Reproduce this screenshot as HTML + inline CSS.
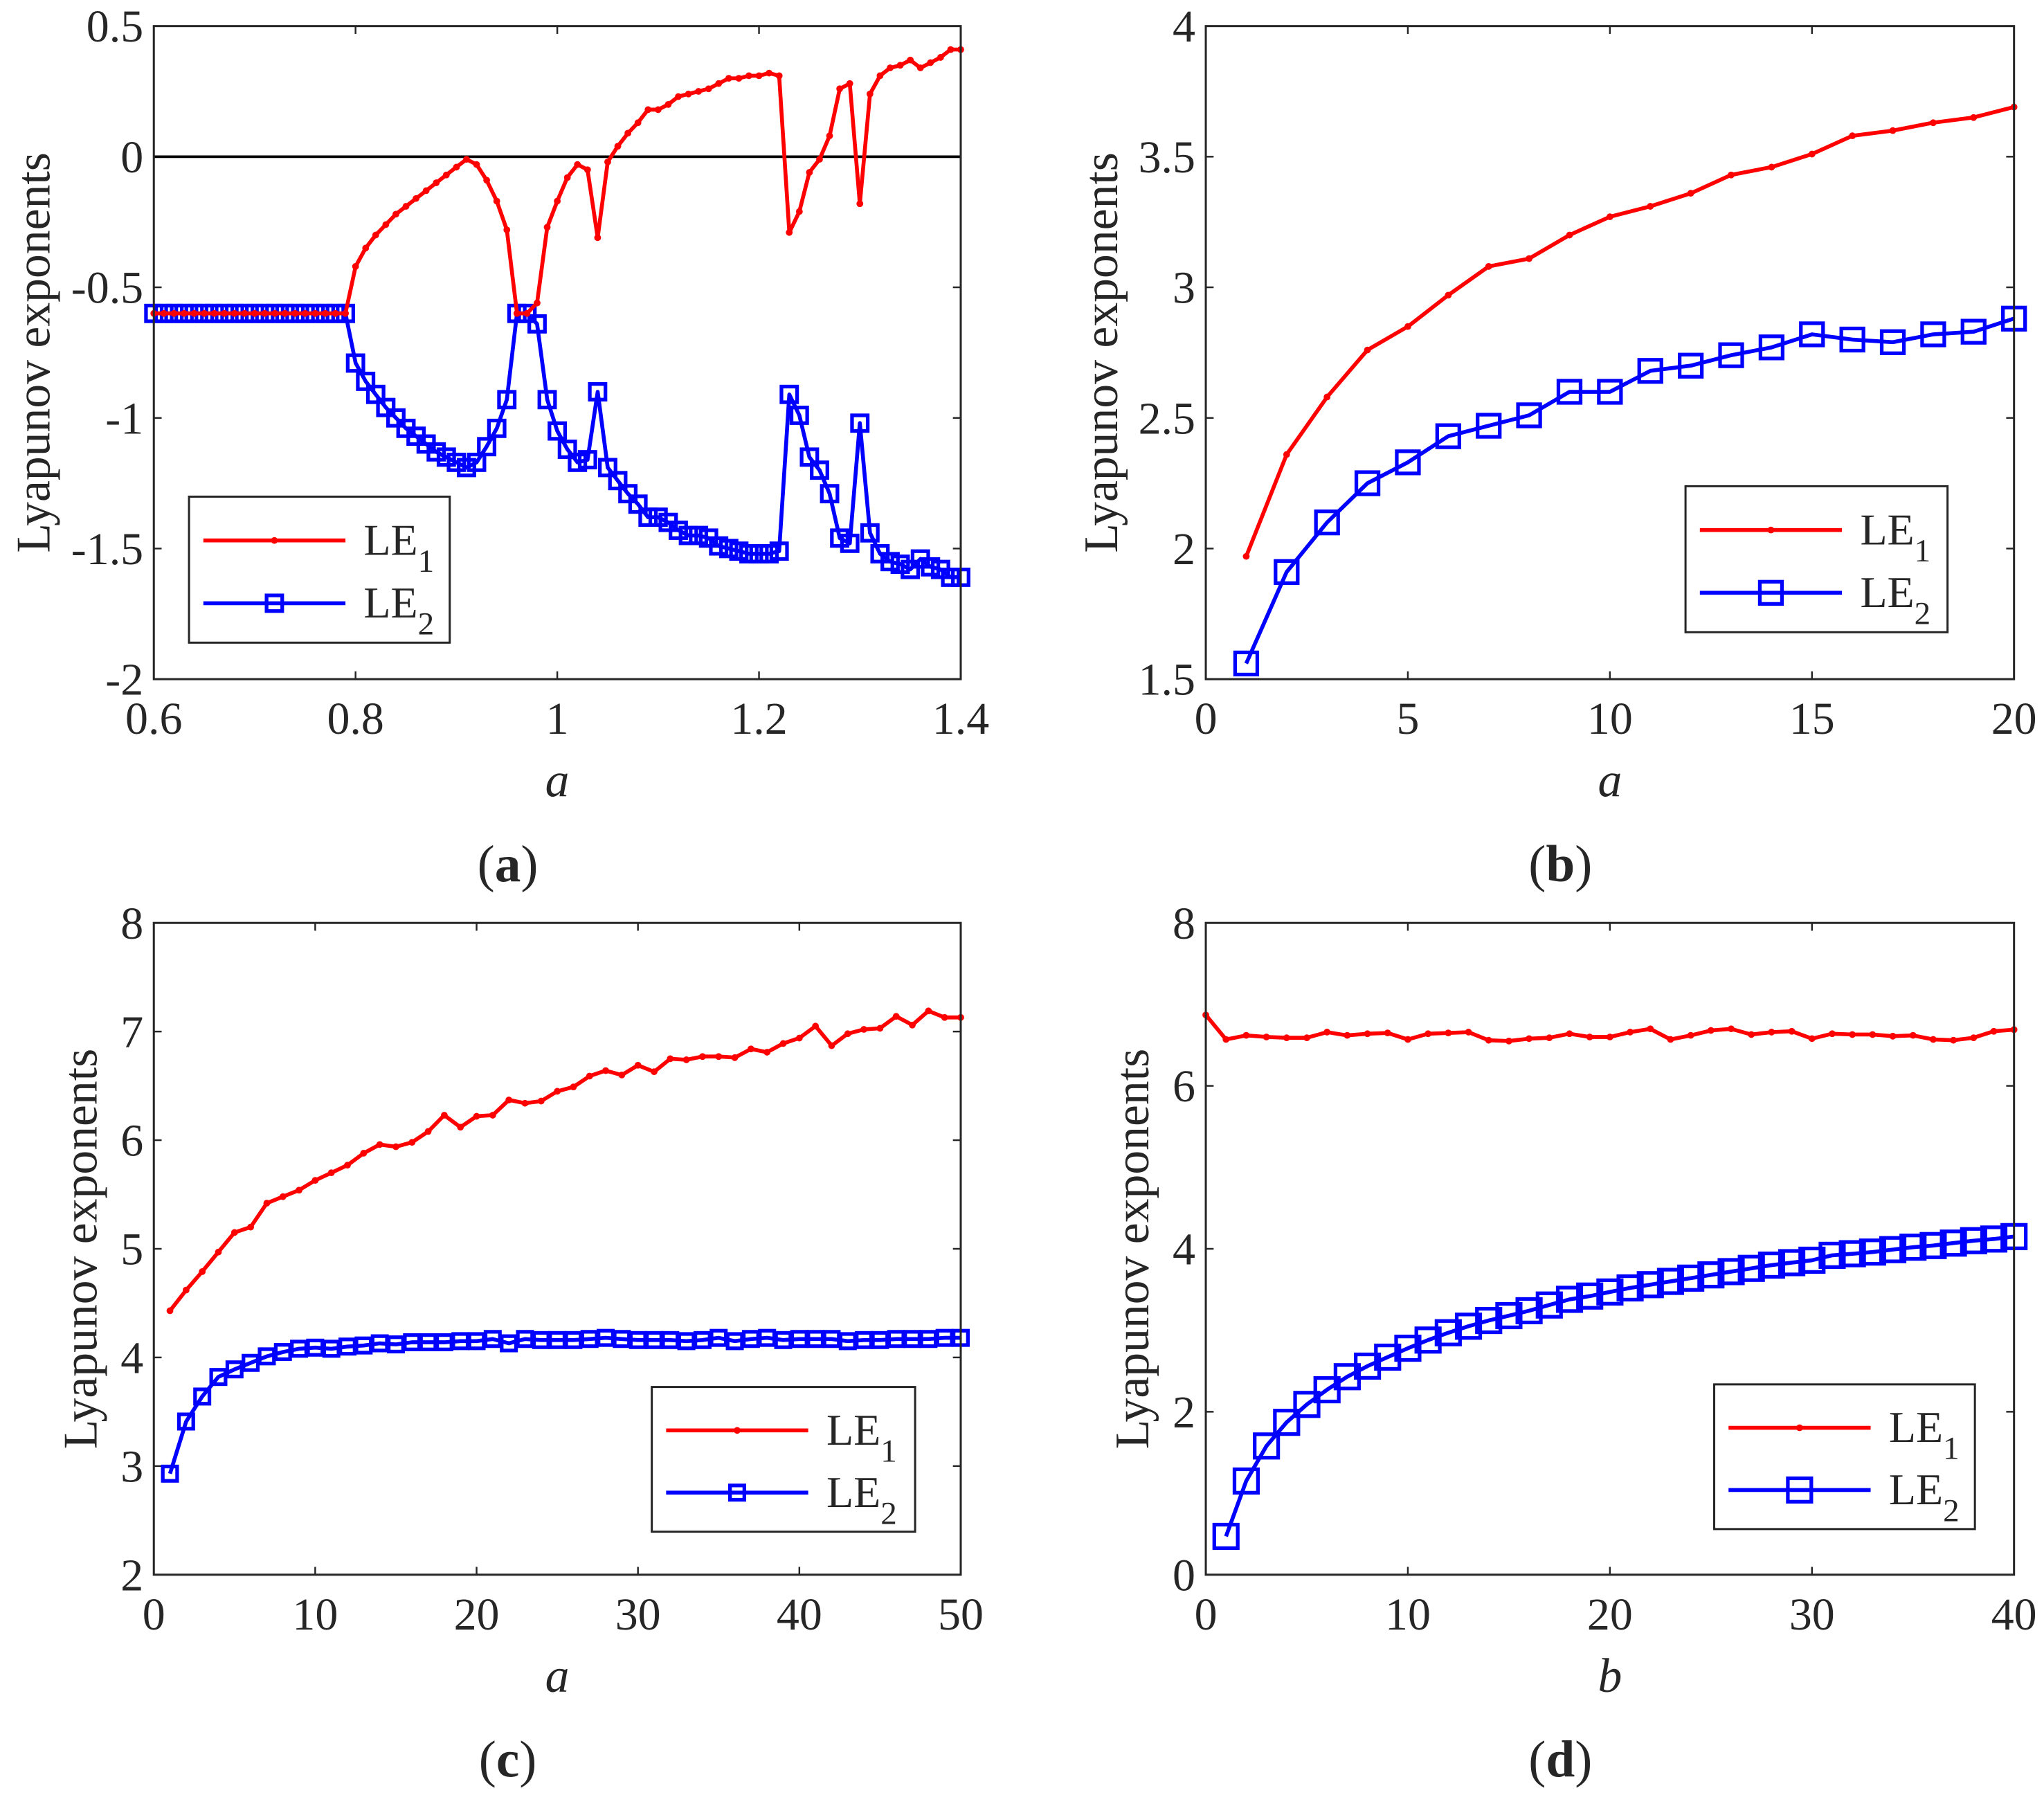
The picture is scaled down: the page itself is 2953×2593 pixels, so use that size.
<!DOCTYPE html>
<html><head><meta charset="utf-8">
<style>
html,body{margin:0;padding:0;background:#fff;}
svg{display:block;}
svg text{font-family:"Liberation Serif","DejaVu Serif","Times New Roman",serif;fill:#262626;}
</style></head>
<body>
<svg id="fig" width="2953" height="2593" viewBox="0 0 1568 1377" preserveAspectRatio="none" xmlns="http://www.w3.org/2000/svg" font-family="Liberation Serif, DejaVu Serif, serif"></svg>
<script>
// Panel (a)
const aX = [];
for (let i = 0; i <= 80; i++) aX.push(+(0.6 + i * 0.01).toFixed(2));
const aLE1 = [-0.6,-0.6,-0.6,-0.6,-0.6,-0.6,-0.6,-0.6,-0.6,-0.6,-0.6,-0.6,-0.6,-0.6,-0.6,-0.6,-0.6,-0.6,-0.6,-0.6,
 -0.42,-0.35,-0.30,-0.26,-0.22,-0.19,-0.16,-0.13,-0.10,-0.07,-0.04,-0.01,-0.03,-0.09,-0.17,-0.28,-0.60,-0.60,-0.56,-0.27,
 -0.17,-0.08,-0.03,-0.05,-0.31,-0.02,0.04,0.09,0.13,0.18,0.18,0.20,0.23,0.24,0.25,0.26,0.28,0.30,0.30,0.31,
 0.31,0.32,0.31,-0.29,-0.21,-0.06,-0.01,0.08,0.26,0.28,-0.18,0.24,0.31,0.34,0.35,0.37,0.34,0.36,0.38,0.41,0.41];
const aLE2 = [-0.6,-0.6,-0.6,-0.6,-0.6,-0.6,-0.6,-0.6,-0.6,-0.6,-0.6,-0.6,-0.6,-0.6,-0.6,-0.6,-0.6,-0.6,-0.6,-0.6,
 -0.79,-0.86,-0.91,-0.96,-1.00,-1.04,-1.07,-1.10,-1.13,-1.15,-1.17,-1.19,-1.17,-1.11,-1.04,-0.93,-0.60,-0.60,-0.64,-0.93,
 -1.05,-1.12,-1.17,-1.16,-0.90,-1.19,-1.24,-1.29,-1.33,-1.38,-1.38,-1.40,-1.43,-1.45,-1.45,-1.46,-1.49,-1.50,-1.51,-1.52,
 -1.52,-1.52,-1.51,-0.91,-0.99,-1.15,-1.20,-1.29,-1.46,-1.48,-1.02,-1.44,-1.52,-1.55,-1.56,-1.58,-1.54,-1.57,-1.58,-1.61,-1.61];
const aXTicks = ["0.6","0.8","1","1.2","1.4"];
const aYTicks = ["-2","-1.5","-1","-0.5","0","0.5"];
// Panel (b)
const bX = [1,2,3,4,5,6,7,8,9,10,11,12,13,14,15,16,17,18,19,20];
const bLE1 = [1.97,2.36,2.58,2.76,2.85,2.97,3.08,3.11,3.20,3.27,3.31,3.36,3.43,3.46,3.51,3.58,3.60,3.63,3.65,3.69];
const bLE2 = [1.56,1.91,2.10,2.25,2.33,2.43,2.47,2.51,2.60,2.60,2.68,2.70,2.74,2.77,2.82,2.80,2.79,2.82,2.83,2.88];
const bXTicks = ["0","5","10","15","20"];
const bYTicks = ["1.5","2","2.5","3","3.5","4"];
// Panel (c)
const cX = [];
for (let i = 1; i <= 50; i++) cX.push(i);
const cLE1 = [4.43,4.62,4.79,4.97,5.15,5.20,5.42,5.48,5.54,5.63,5.70,5.77,5.88,5.96,5.94,5.98,6.08,6.23,6.12,6.22,
 6.23,6.37,6.34,6.36,6.45,6.49,6.59,6.64,6.60,6.69,6.63,6.75,6.74,6.77,6.77,6.76,6.84,6.81,6.89,6.94,
 7.05,6.87,6.98,7.02,7.03,7.14,7.06,7.19,7.13,7.13];
const cLE2 = [2.93,3.41,3.64,3.82,3.89,3.95,4.01,4.05,4.08,4.09,4.08,4.10,4.11,4.13,4.12,4.14,4.14,4.14,4.15,4.15,
 4.17,4.13,4.17,4.16,4.16,4.16,4.17,4.18,4.17,4.16,4.16,4.16,4.15,4.16,4.18,4.15,4.17,4.18,4.16,4.17,
 4.17,4.17,4.15,4.16,4.16,4.17,4.17,4.17,4.18,4.18];
const cXTicks = ["0","10","20","30","40","50"];
const cYTicks = ["2","3","4","5","6","7","8"];
// Panel (d)
const dX1 = [];
for (let i = 0; i <= 40; i++) dX1.push(i);
const dLE1 = [6.87,6.57,6.62,6.60,6.59,6.59,6.66,6.62,6.64,6.65,6.57,6.64,6.65,6.66,6.56,6.55,6.58,6.59,6.64,6.60,
 6.60,6.66,6.70,6.57,6.62,6.68,6.70,6.63,6.66,6.67,6.58,6.64,6.63,6.63,6.61,6.62,6.57,6.56,6.59,6.67,6.69];
const dX2 = [];
for (let i = 1; i <= 40; i++) dX2.push(i);
const dLE2 = [0.47,1.15,1.58,1.87,2.09,2.27,2.43,2.56,2.67,2.78,2.88,2.97,3.05,3.12,3.18,3.24,3.31,3.38,3.42,3.47,
 3.52,3.56,3.60,3.64,3.68,3.72,3.76,3.80,3.83,3.86,3.92,3.94,3.96,3.99,4.02,4.04,4.07,4.10,4.12,4.15];
const dXTicks = ["0","10","20","30","40"];
const dYTicks = ["0","2","4","6","8"];

const NS = "http://www.w3.org/2000/svg";
const svg = document.getElementById('fig');
const FF = 'Liberation Serif, DejaVu Serif, serif';
function mk(tag, attrs, parent) {
  const e = document.createElementNS(NS, tag);
  for (const k in attrs) e.setAttribute(k, attrs[k]);
  if (tag === 'text') e.setAttribute('font-family', FF);
  (parent || svg).appendChild(e);
  return e;
}

function panel(cfg) {
  const g = mk('g', {});
  
  
  const {x0, x1, y0, y1, xmin, xmax, ymin, ymax} = cfg;
  const sx = v => x0 + (v - xmin) / (xmax - xmin) * (x1 - x0);
  const sy = v => y1 - (v - ymin) / (ymax - ymin) * (y1 - y0);
  cfg.xTicks.forEach(t => {
    const v = parseFloat(t), px = sx(v);
    mk('line', {x1: px, y1: y1, x2: px, y2: y1 - 6, stroke: '#262626', 'stroke-width': 1.3}, g);
    mk('line', {x1: px, y1: y0, x2: px, y2: y0 + 6, stroke: '#262626', 'stroke-width': 1.3}, g);
    const tx = mk('text', {x: px, y: y1 + 42, 'text-anchor': 'middle', 'font-size': 35}, g);
    tx.textContent = t;
    
    
  });
  cfg.yTicks.forEach(t => {
    const v = parseFloat(t), py = sy(v);
    mk('line', {x1: x0, y1: py, x2: x0 + 6, y2: py, stroke: '#262626', 'stroke-width': 1.3}, g);
    mk('line', {x1: x1, y1: py, x2: x1 - 6, y2: py, stroke: '#262626', 'stroke-width': 1.3}, g);
    const ty = mk('text', {x: x0 - 8, y: py + 12, 'text-anchor': 'end', 'font-size': 35}, g);
    ty.textContent = t;
    
    
  });
  if (cfg.zeroLine) {
    const zl = mk('line', {x1: x0, y1: sy(0), x2: x1, y2: sy(0), stroke: '#000', 'stroke-width': 2}, g);
    
    
  }
  const clip = 'clip-' + cfg.id;
  const cp = mk('clipPath', {id: clip}, g);
  mk('rect', {x: x0 - 15, y: y0 - 15, width: x1 - x0 + 30, height: y1 - y0 + 30}, cp);
  const s2 = mk('g', {'clip-path': 'url(#' + clip + ')'}, g);
  const p2 = cfg.s2x.map((v, i) => sx(v).toFixed(1) + ',' + sy(cfg.s2y[i]).toFixed(1)).join(' ');
  const l2 = mk('polyline', {points: p2, fill: 'none', stroke: '#0000ff', 'stroke-width': 3, 'stroke-linejoin': 'round'}, s2);
  
  
  const m = cfg.msize;
  cfg.s2x.forEach((v, i) => {
    const r = mk('rect', {x: sx(v) - m / 2, y: sy(cfg.s2y[i]) - m / 2, width: m, height: m, fill: 'none', stroke: '#0000ff', 'stroke-width': 2.8}, s2);
    
    
  });
  const p1 = cfg.s1x.map((v, i) => sx(v).toFixed(1) + ',' + sy(cfg.s1y[i]).toFixed(1)).join(' ');
  const l1 = mk('polyline', {points: p1, fill: 'none', stroke: '#ff0000', 'stroke-width': 3, 'stroke-linejoin': 'round'}, s2);
  
  
  cfg.s1x.forEach((v, i) => {
    const c = mk('circle', {cx: sx(v), cy: sy(cfg.s1y[i]), r: 2.6, fill: '#ff0000'}, s2);
    
    
  });
  const box = mk('rect', {x: x0, y: y0, width: x1 - x0, height: y1 - y0, fill: 'none', stroke: '#262626', 'stroke-width': 1.6}, g);
  
  
  const xl = mk('text', {x: (x0 + x1) / 2, y: y1 + 90, 'text-anchor': 'middle', 'font-size': 37, 'font-style': 'italic'}, g);
  xl.textContent = cfg.xlabel;
  
  
  const yc = (y0 + y1) / 2;
  const yl = mk('text', {x: cfg.ylx, y: yc, 'text-anchor': 'middle', 'font-size': 37, transform: 'rotate(-90 ' + cfg.ylx + ' ' + yc + ')'}, g);
  yl.textContent = 'Lyapunov exponents';
  
  
  const cap = mk('text', {x: (x0 + x1) / 2 - 38, y: y1 + 155, 'text-anchor': 'middle', 'font-size': 40}, g);
  cap.innerHTML = '(<tspan font-weight="bold">' + cfg.id + '</tspan>)';
  
  
  const L = cfg.leg;
  const lg = mk('g', {}, g);
  
  
  mk('rect', {x: L[0], y: L[1], width: L[2] - L[0], height: L[3] - L[1], fill: '#fff', stroke: '#262626', 'stroke-width': 1.6}, lg);
  const h = L[3] - L[1];
  const ya = L[1] + h * 0.3, yb = L[1] + h * 0.73;
  const lx0 = L[0] + 11, lx1 = L[0] + 120;
  const e1 = mk('g', {}, lg);
  
  
  mk('line', {x1: lx0, y1: ya, x2: lx1, y2: ya, stroke: '#ff0000', 'stroke-width': 3}, e1);
  mk('circle', {cx: (lx0 + lx1) / 2, cy: ya, r: 2.6, fill: '#ff0000'}, e1);
  const t1 = mk('text', {x: lx1 + 14, y: ya + 11, 'font-size': 34}, e1);
  t1.innerHTML = 'LE<tspan font-size="25" dy="13">1</tspan>';
  const e2 = mk('g', {}, lg);
  
  
  mk('line', {x1: lx0, y1: yb, x2: lx1, y2: yb, stroke: '#0000ff', 'stroke-width': 3}, e2);
  mk('rect', {x: (lx0 + lx1) / 2 - m / 2, y: yb - m / 2, width: m, height: m, fill: 'none', stroke: '#0000ff', 'stroke-width': 2.8}, e2);
  const t2 = mk('text', {x: lx1 + 14, y: yb + 11, 'font-size': 34}, e2);
  t2.innerHTML = 'LE<tspan font-size="25" dy="13">2</tspan>';
}

panel({id: 'a', x0: 118, x1: 737, y0: 20, y1: 521, xmin: 0.6, xmax: 1.4, ymin: -2, ymax: 0.5,
  xTicks: aXTicks, yTicks: aYTicks, s1x: aX, s1y: aLE1, s2x: aX, s2y: aLE2, msize: 12, zeroLine: true,
  xlabel: 'a', ylx: 38, leg: [145, 381, 345, 493]});
panel({id: 'b', x0: 925, x1: 1545, y0: 20, y1: 521, xmin: 0, xmax: 20, ymin: 1.5, ymax: 4,
  xTicks: bXTicks, yTicks: bYTicks, s1x: bX, s1y: bLE1, s2x: bX, s2y: bLE2, msize: 17,
  xlabel: 'a', ylx: 857, leg: [1293, 373, 1494, 485]});
panel({id: 'c', x0: 118, x1: 737, y0: 708, y1: 1208, xmin: 0, xmax: 50, ymin: 2, ymax: 8,
  xTicks: cXTicks, yTicks: cYTicks, s1x: cX, s1y: cLE1, s2x: cX, s2y: cLE2, msize: 11,
  xlabel: 'a', ylx: 74, leg: [500, 1064, 702, 1175]});
panel({id: 'd', x0: 925, x1: 1545, y0: 708, y1: 1208, xmin: 0, xmax: 40, ymin: 0, ymax: 8,
  xTicks: dXTicks, yTicks: dYTicks, s1x: dX1, s1y: dLE1, s2x: dX2, s2y: dLE2, msize: 18,
  xlabel: 'b', ylx: 881, leg: [1315, 1062, 1515, 1173]});
</script>
</body></html>
